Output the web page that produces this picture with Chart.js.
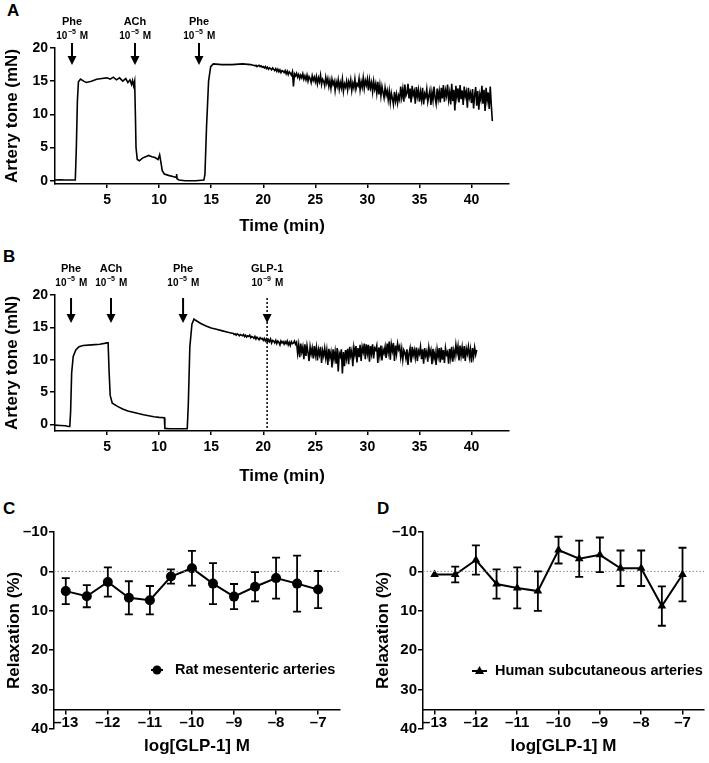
<!DOCTYPE html>
<html>
<head>
<meta charset="utf-8">
<script src="https://cdn.jsdelivr.net/npm/chart.js@4.4.0/dist/chart.umd.min.js"></script>
<style>
  body { margin: 0; background: #fff; }
  #fig { position: relative; width: 709px; height: 763px; overflow: hidden; }
  #fig canvas { position: absolute; }
  .letter { position: absolute; font: bold 17px "Liberation Sans", Arial, sans-serif; line-height: 17px; color: #000; }
</style>
</head>
<body>
<div id="fig">
  <div class="letter" style="left:7px;top:2px">A</div>
  <div class="letter" style="left:3px;top:248px">B</div>
  <div class="letter" style="left:3px;top:500px">C</div>
  <div class="letter" style="left:377px;top:500px">D</div>
  <canvas id="panelA" width="709" height="240" style="left:0;top:0"></canvas>
  <canvas id="panelB" width="709" height="250" style="left:0;top:240px"></canvas>
  <canvas id="panelC" width="355" height="273" style="left:0;top:490px"></canvas>
  <canvas id="panelD" width="340" height="273" style="left:369px;top:490px"></canvas>
</div>
<script>
// ---- panel A: rat artery trace (time in min, tone in mN) ----
const aTime = [0, 0.5, 1.0, 1.5, 1.95, 2.05, 2.15, 2.25, 2.45, 2.75, 3.0, 3.5, 4.0, 4.5, 5.0,
  5.3, 5.6, 5.9, 6.2, 6.5, 6.8, 7.0, 7.2, 7.35, 7.45, 7.55, 7.65, 7.72, 7.78, 7.9,
  8.1, 8.4, 8.7, 9.0, 9.3, 9.6, 9.9, 10.05, 10.15, 10.3, 10.5, 10.9, 11.4, 11.65, 11.68,
  11.72, 11.9, 12.5, 13.5, 14.3, 14.4, 14.55, 14.75, 14.95, 15.2, 16.0, 17.0, 18.0, 18.8, 19.0];
const aTone = [0.1, 0.15, 0.1, 0.1, 0.1, 5, 12, 14.9, 15.3, 15.0, 14.8, 15.0, 15.3, 15.4, 15.5,
  15.3, 15.6, 15.2, 15.5, 15.0, 15.4, 14.8, 15.2, 14.5, 15.1, 14.3, 15.0, 10, 5, 3.2,
  3.0, 3.4, 3.6, 3.8, 3.6, 3.5, 3.2, 3.9, 3.0, 1.5, 1.0, 0.8, 0.6, 0.5, 1.0,
  0.3, 0.1, 0.0, 0.0, 0.1, 1, 8, 15, 17.2, 17.6, 17.5, 17.5, 17.6, 17.5, 17.4];
// sampled recording after 19 min, one reading every 0.1 min
const aRecStart = 19.1;
const aRecStep = 0.1;
const aRec = [
  17.4, 17.3, 17.4, 17.2, 17.3, 17.4, 17.2, 17.3, 17.1, 17.2,
  17.0, 17.2, 16.9, 17.1, 16.8, 17.0, 16.9, 16.7, 17.0, 16.8,
  16.6, 16.9, 16.5, 16.8, 16.4, 16.7, 16.3, 16.6, 16.5, 16.3,
  16.6, 16.1, 16.5, 16.0, 16.4, 16.2, 15.9, 16.4, 14.2, 16.1,
  15.8, 16.2, 15.6, 16.0, 15.4, 15.9, 15.5, 16.1, 15.3, 15.8,
  15.2, 15.9, 15.0, 15.7, 15.4, 14.8, 15.8, 15.1, 15.6, 14.9,
  15.7, 14.6, 15.5, 14.9, 15.9, 14.5, 15.3, 15.0, 14.3, 15.6,
  14.7, 15.4, 14.2, 15.1, 13.9, 15.3, 14.5, 15.0, 13.6, 14.9,
  14.2, 15.2, 13.8, 14.8, 14.0, 15.3, 13.5, 14.6, 14.1, 15.0,
  13.7, 14.9, 14.2, 15.2, 13.6, 14.7, 14.0, 15.3, 13.8, 14.6,
  14.3, 15.4, 13.7, 14.9, 14.1, 15.5, 13.9, 15.1, 14.4, 15.3,
  13.6, 15.2, 14.0, 14.8, 13.4, 15.0, 13.8, 14.6, 13.2, 14.9,
  13.0, 14.4, 12.8, 14.2, 13.3, 12.5, 14.0, 12.9, 13.6, 12.2,
  13.5, 11.8, 13.2, 12.4, 11.5, 13.4, 12.0, 13.0, 11.7, 12.8,
  12.2, 14.2, 12.6, 13.8, 11.9, 14.5, 12.8, 13.2, 14.6, 12.4,
  13.9, 11.8, 14.3, 12.9, 13.5, 11.6, 14.1, 12.7, 13.7, 11.9,
  13.4, 12.2, 14.0, 11.5, 13.1, 12.6, 13.8, 11.9, 12.8, 13.6,
  11.4, 13.3, 12.1, 14.2, 12.5, 11.6, 13.9, 12.3, 13.5, 11.8,
  14.0, 12.4, 14.4, 11.9, 13.6, 12.8, 14.5, 12.2, 13.3, 11.5,
  14.6, 12.0, 13.7, 10.6, 14.3, 12.6, 13.9, 11.8, 14.4, 12.3,
  13.6, 11.4, 14.2, 12.7, 13.4, 11.0, 14.0, 12.5, 13.2, 11.7,
  13.8, 10.9, 12.9, 14.1, 11.3, 13.5, 10.7, 13.0, 12.2, 14.3,
  11.6, 13.7, 10.5, 14.0, 12.1, 13.3, 10.8, 14.2, 11.4, 9.0];
const aArrowTimes = [1.63, 7.68, 13.83];
const aArrowDrugs = ['Phe', 'ACh', 'Phe'];
const aArrowExp = [-5, -5, -5];

// ---- panel B: artery trace with GLP-1 ----
const bTime = [0, 0.5, 1.0, 1.3, 1.42, 1.5, 1.6, 1.75, 2.0, 2.3, 2.7, 3.5, 4.3, 5.0, 5.1,
  5.2, 5.3, 5.5, 6.0, 6.5, 7.0, 7.5, 8.0, 8.5, 9.0, 9.5, 10.0, 10.5, 10.55, 11.0,
  12.0, 12.7, 12.8, 12.95, 13.15, 13.35, 13.5, 14.0, 14.5, 15.0, 15.5, 16.0, 16.5, 17.0];
const bTone = [-0.1, -0.15, -0.2, -0.3, -0.3, 2, 8, 10.5, 11.5, 12.0, 12.2, 12.3, 12.4, 12.6, 12.6,
  8, 4.5, 3.3, 2.8, 2.4, 2.1, 1.9, 1.7, 1.5, 1.35, 1.2, 1.1, 1.05, -0.6, -0.65,
  -0.65, -0.65, 3, 12, 15.5, 16.3, 16.1, 15.6, 15.2, 14.9, 14.7, 14.5, 14.3, 14.1];
const bRecStart = 17.1;
const bRecStep = 0.1;
const bRec = [
  14.1, 13.9, 14.0, 13.8, 14.0, 13.9, 13.7, 13.9, 13.8, 13.7,
  13.9, 13.6, 13.8, 13.5, 13.7, 13.6, 13.8, 13.4, 13.6, 13.5,
  13.3, 13.6, 13.2, 13.5, 13.3, 13.1, 13.4, 13.2, 13.3, 13.0,
  13.3, 12.9, 13.2, 12.7, 13.1, 12.8, 13.2, 12.6, 13.0, 12.9,
  12.6, 13.0, 12.5, 12.9, 12.7, 12.3, 12.9, 12.6, 12.8, 12.4,
  12.8, 12.5, 12.9, 12.3, 12.7, 12.2, 12.8, 12.5, 12.6, 12.9,
  12.4, 12.7, 11.0, 12.3, 10.4, 12.5, 11.2, 12.0, 10.1, 12.4,
  10.6, 12.2, 11.1, 9.8, 12.0, 10.9, 11.8, 10.2, 12.1, 10.7,
  11.9, 9.9, 11.6, 10.8, 12.0, 9.5, 11.4, 10.6, 11.8, 10.3,
  11.5, 9.2, 11.7, 10.4, 11.2, 8.8, 11.6, 10.1, 11.3, 9.4,
  11.8, 8.2, 11.0, 10.5, 11.6, 7.9, 11.2, 9.0, 11.5, 10.2,
  11.7, 9.3, 12.0, 10.6, 11.4, 9.0, 11.9, 10.8, 12.1, 9.6,
  11.8, 10.4, 12.3, 9.8, 12.0, 11.2, 12.5, 10.1, 12.4, 11.0,
  12.3, 9.7, 12.1, 10.9, 12.4, 10.2, 11.8, 11.5, 12.2, 9.5,
  11.9, 10.6, 12.2, 9.9, 11.6, 11.0, 12.0, 10.3, 12.5, 11.2,
  12.8, 10.0, 12.4, 11.4, 12.6, 9.8, 12.2, 10.9, 12.5, 11.6,
  12.1, 10.4, 11.7, 10.0, 11.5, 11.1, 10.2, 11.6, 9.2, 11.0,
  11.8, 9.6, 12.0, 10.7, 11.5, 10.3, 11.9, 9.8, 11.4, 10.9,
  12.0, 10.1, 11.6, 9.4, 11.8, 10.6, 11.3, 9.7, 11.9, 10.8,
  11.5, 9.3, 11.7, 10.2, 11.1, 9.2, 11.6, 10.5, 11.8, 9.6,
  11.9, 10.0, 11.5, 9.5, 11.8, 10.8, 11.2, 9.4, 11.7, 10.3,
  12.0, 9.7, 11.4, 10.5, 12.3, 11.0, 12.1, 9.9, 12.2, 10.6,
  11.9, 10.2, 12.1, 9.8, 11.7, 10.9, 12.0, 10.4, 11.6, 9.6,
  11.8, 10.5, 11.9, 10.8, 11.5];
const bArrowTimes = [1.54, 5.38, 12.3, 20.37];
const bArrowDrugs = ['Phe', 'ACh', 'Phe', 'GLP-1'];
const bArrowExp = [-5, -5, -5, -9];

const timeTicks = [5, 10, 15, 20, 25, 30, 35, 40];
const toneTicks = [0, 5, 10, 15, 20];

// ---- panels C and D: concentration-response (mean +/- SEM) ----
const logDose = [-13, -12.5, -12, -11.5, -11, -10.5, -10, -9.5, -9, -8.5, -8, -7.5, -7];
const ratMean = [5.0, 6.3, 2.7, 6.7, 7.3, 1.3, -0.8, 3.1, 6.4, 3.9, 1.7, 3.1, 4.6];
const ratSem = [3.3, 2.8, 3.7, 4.2, 3.6, 1.8, 4.4, 5.2, 3.2, 3.7, 5.2, 7.1, 4.7];
const humanMean = [0.8, 0.8, -2.9, 3.2, 4.2, 5.0, -5.4, -3.2, -4.2, -0.8, -0.8, 8.8, 0.8];
const humanSem = [0.4, 2.0, 3.7, 3.7, 5.2, 5.0, 3.4, 4.6, 4.4, 4.5, 4.5, 5.0, 6.8];
const doseTicks = [-13, -12, -11, -10, -9, -8, -7];
const relaxTicks = [-10, 0, 10, 20, 30, 40];

const FONT = '"Liberation Sans", Arial, Helvetica, sans-serif';
Chart.defaults.font.family = FONT;
Chart.defaults.font.weight = 'bold';
Chart.defaults.color = '#000';

function traceData(times, vals, recStart, recStep, rec) {
  const pts = times.map((t, i) => ({ x: t, y: vals[i] }));
  rec.forEach((v, i) => pts.push({ x: +(recStart + i * recStep).toFixed(2), y: v }));
  return pts;
}

function minus(v) {
  return v < 0 ? '\u2013' + Math.abs(v) : String(v);
}

// drug addition arrows above a trace
const arrowPlugin = {
  id: 'arrows',
  afterDraw(chart, args, o) {
    if (!o.times) return;
    const ctx = chart.ctx;
    const xs = chart.scales.x;
    ctx.save();
    ctx.fillStyle = '#000';
    ctx.strokeStyle = '#000';
    o.times.forEach((t, i) => {
      const x = xs.getPixelForValue(t);
      ctx.textBaseline = 'middle';
      ctx.textAlign = 'center';
      ctx.font = 'bold 11px ' + FONT;
      ctx.fillText(o.drugs[i], x, o.nameY);
      // 10^exp M
      const base = 'bold 10px ' + FONT;
      const sup = 'bold 7px ' + FONT;
      const expTxt = '\u2212' + Math.abs(o.exps[i]);
      ctx.font = base;
      const w1 = ctx.measureText('10').width;
      const w3 = ctx.measureText('M').width;
      ctx.font = sup;
      const w2 = ctx.measureText(expTxt).width;
      const gap = 4;
      let cx = x - (w1 + w2 + gap + w3) / 2;
      ctx.textAlign = 'left';
      ctx.font = base;
      ctx.fillText('10', cx, o.concY);
      cx += w1 + 0.5;
      ctx.font = sup;
      ctx.fillText(expTxt, cx, o.concY - 4);
      cx += w2 + gap;
      ctx.font = base;
      ctx.fillText('M', cx, o.concY);

      const dotted = o.guide === i;
      ctx.lineWidth = dotted ? 1.5 : 2;
      ctx.setLineDash(dotted ? [2, 2] : []);
      ctx.beginPath();
      ctx.moveTo(x, o.top);
      ctx.lineTo(x, dotted ? chart.chartArea.bottom : o.tip - 7);
      ctx.stroke();
      ctx.setLineDash([]);
      ctx.beginPath();
      ctx.moveTo(x - 4.5, o.tip - 9);
      ctx.lineTo(x + 4.5, o.tip - 9);
      ctx.lineTo(x, o.tip);
      ctx.closePath();
      ctx.fill();
    });
    ctx.restore();
  }
};

const errorBarPlugin = {
  id: 'errorBars',
  afterDatasetsDraw(chart, args, o) {
    if (!o.sem) return;
    const { ctx, scales: { x, y } } = chart;
    ctx.save();
    ctx.strokeStyle = '#000';
    ctx.lineWidth = 1.8;
    o.dose.forEach((d, i) => {
      const px = x.getPixelForValue(d);
      const hi = y.getPixelForValue(o.mean[i] - o.sem[i]);
      const lo = y.getPixelForValue(o.mean[i] + o.sem[i]);
      if (Math.abs(lo - hi) < 10) return;
      ctx.beginPath();
      ctx.moveTo(px, hi); ctx.lineTo(px, lo);
      ctx.moveTo(px - 4, hi); ctx.lineTo(px + 4, hi);
      ctx.moveTo(px - 4, lo); ctx.lineTo(px + 4, lo);
      ctx.stroke();
    });
    ctx.restore();
  }
};

const legendPlugin = {
  id: 'figLegend',
  afterDraw(chart, args, o) {
    if (!o.text) return;
    const ctx = chart.ctx;
    ctx.save();
    ctx.strokeStyle = '#000';
    ctx.fillStyle = '#000';
    ctx.lineWidth = 2;
    ctx.beginPath();
    ctx.moveTo(o.x1, o.y); ctx.lineTo(o.x2, o.y);
    ctx.stroke();
    const mx = (o.x1 + o.x2) / 2;
    ctx.beginPath();
    if (o.style === 'triangle') {
      ctx.moveTo(mx, o.y - 5);
      ctx.lineTo(mx + 4.5, o.y + 3);
      ctx.lineTo(mx - 4.5, o.y + 3);
      ctx.closePath();
    } else {
      ctx.arc(mx, o.y, 4.5, 0, Math.PI * 2);
    }
    ctx.fill();
    ctx.font = 'bold 14.5px ' + FONT;
    ctx.textAlign = 'left';
    ctx.textBaseline = 'middle';
    ctx.fillText(o.text, o.textX, o.y);
    ctx.restore();
  }
};

const blackGrid = { drawOnChartArea: false, color: '#000', lineWidth: 1.5, tickLength: 5 };
const blackBorder = { color: '#000', width: 1.5 };

function traceChart(id, data, yMin, area, arrows) {
  return new Chart(document.getElementById(id), {
    type: 'line',
    data: {
      datasets: [{
        data: data,
        borderColor: '#000',
        borderWidth: 1.6,
        pointRadius: 0,
        tension: 0
      }]
    },
    plugins: [arrowPlugin],
    options: {
      animation: false,
      responsive: false,
      devicePixelRatio: 1,
      layout: { padding: { left: 0, top: area.top, right: area.right, bottom: 0 } },
      plugins: { legend: { display: false }, tooltip: { enabled: false }, arrows: arrows },
      scales: {
        x: {
          type: 'linear', min: 0, max: 43.6,
          afterBuildTicks: s => { s.ticks = timeTicks.map(v => ({ value: v })); },
          afterFit: s => { s.height = area.xHeight; },
          grid: Object.assign({}, blackGrid, { tickLength: 4 }),
          border: blackBorder,
          ticks: { color: '#000', font: { size: 14, weight: 'bold' }, padding: 4, maxRotation: 0 },
          title: { display: true, text: 'Time (min)', color: '#000', font: { size: 17, weight: 'bold' }, padding: { top: 0, bottom: 3 } }
        },
        y: {
          min: yMin, max: 20,
          afterBuildTicks: s => { s.ticks = toneTicks.map(v => ({ value: v })); },
          afterFit: s => { s.width = 55; },
          grid: blackGrid,
          border: blackBorder,
          ticks: { color: '#000', font: { size: 14, weight: 'bold' }, padding: 2 },
          title: { display: true, text: 'Artery tone (mN)', color: '#000', font: { size: 17, weight: 'bold' }, padding: { top: 2, bottom: 0 } }
        }
      }
    }
  });
}

traceChart('panelA', traceData(aTime, aTone, aRecStart, aRecStep, aRec), -0.5,
  { top: 48, right: 200, xHeight: 56 },
  { times: aArrowTimes, drugs: aArrowDrugs, exps: aArrowExp, nameY: 22, concY: 36, top: 43, tip: 65, guide: -1 });

traceChart('panelB', traceData(bTime, bTone, bRecStart, bRecStep, bRec), -1,
  { top: 55, right: 200, xHeight: 59 },
  { times: bArrowTimes, drugs: bArrowDrugs, exps: bArrowExp, nameY: 29, concY: 43, top: 58, tip: 83, guide: 3 });

function doseChart(id, mean, sem, style, rightPad, legend) {
  return new Chart(document.getElementById(id), {
    type: 'line',
    data: {
      datasets: [{
        data: [{ x: -13.28, y: 0 }, { x: -6.48, y: 0 }],
        borderColor: '#888',
        borderWidth: 1,
        borderDash: [1.5, 2],
        pointRadius: 0
      }, {
        data: logDose.map((d, i) => ({ x: d, y: mean[i] })),
        borderColor: '#000',
        borderWidth: 2,
        pointStyle: style,
        pointRadius: 5,
        pointBackgroundColor: '#000',
        pointBorderColor: '#000',
        pointBorderWidth: 0,
        tension: 0
      }]
    },
    plugins: [errorBarPlugin, legendPlugin],
    options: {
      animation: false,
      responsive: false,
      devicePixelRatio: 1,
      layout: { padding: { left: 0, top: 42, right: rightPad, bottom: 34 } },
      plugins: {
        legend: { display: false },
        tooltip: { enabled: false },
        errorBars: { dose: logDose, mean: mean, sem: sem },
        figLegend: legend
      },
      scales: {
        x: {
          type: 'linear', min: -13.28, max: -6.48,
          position: { y: 35 },
          afterBuildTicks: s => { s.ticks = doseTicks.map(v => ({ value: v })); },
          afterFit: s => { s.height = 47; },
          grid: Object.assign({}, blackGrid, { tickLength: 4 }),
          border: blackBorder,
          ticks: { color: '#000', font: { size: 15, weight: 'bold' }, padding: 1, maxRotation: 0, callback: v => minus(v) },
          title: { display: true, text: 'log[GLP-1] M', color: '#000', font: { size: 17, weight: 'bold' }, padding: { top: 0, bottom: 0 } }
        },
        y: {
          min: -10, max: 40, reverse: true,
          afterBuildTicks: s => { s.ticks = relaxTicks.map(v => ({ value: v })); },
          afterFit: s => { s.width = 54; },
          grid: blackGrid,
          border: blackBorder,
          ticks: { color: '#000', font: { size: 15, weight: 'bold' }, padding: 1, callback: v => minus(v) },
          title: { display: true, text: 'Relaxation (%)', color: '#000', font: { size: 17, weight: 'bold' }, padding: { top: 4, bottom: 0 } }
        }
      }
    }
  });
}

doseChart('panelC', ratMean, ratSem, 'circle', 15,
  { text: 'Rat mesenteric arteries', style: 'circle', x1: 151, x2: 163, y: 180, textX: 175 });
doseChart('panelD', humanMean, humanSem, 'triangle', 0,
  { text: 'Human subcutaneous arteries', style: 'triangle', x1: 103, x2: 118, y: 181, textX: 126 });
</script>
</body>
</html>
